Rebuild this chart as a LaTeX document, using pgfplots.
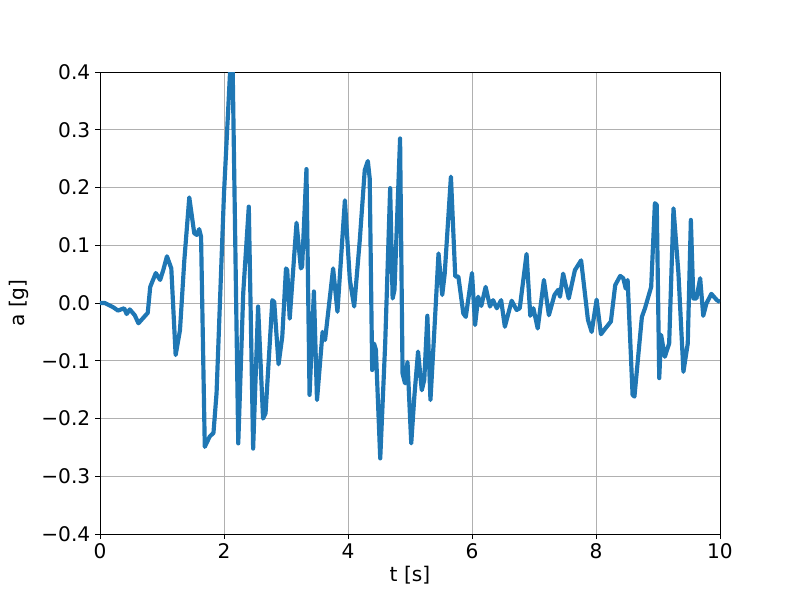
\documentclass[border=0pt]{standalone}
\usepackage{fontspec}
\setmainfont{DejaVu Sans}
\usepackage{pgfplots}
\pgfplotsset{compat=1.18}
\definecolor{mplblue}{HTML}{1F77B4}
\definecolor{mplgrid}{HTML}{B0B0B0}
\begin{document}
\begin{tikzpicture}
% 800x600 px figure -> 576x432 pt; axes box 620x462 px
\path[use as bounding box] (-72pt,-47.5pt) rectangle (504pt,384.5pt);
\begin{axis}[
  at={(0,0)}, anchor=south west,
  scale only axis, width=446.4pt, height=332.6pt,
  xmin=0, xmax=10, ymin=-0.4, ymax=0.4,
  xtick={0,2,...,10}, xticklabels={0,2,4,6,8,10},
  ytick={-0.4,-0.3,...,0.4},
  yticklabels={−0.4,−0.3,−0.2,−0.1,0.0,0.1,0.2,0.3,0.4},
  tick align=outside, tick pos=left,
  major tick length=3.5pt,
  tick style={black, line width=0.6pt},
  axis line style={black, line width=0.6pt},
  grid=major, grid style={mplgrid, line width=0.6pt},
  ticklabel style={font=\fontsize{14.5}{17}\selectfont},
  label style={font=\fontsize{14.5}{17}\selectfont},
  xlabel={t [s]}, ylabel={a [g]},
  xlabel style={yshift=2pt},
  ylabel style={yshift=2pt},
]
% measured acceleration signal
\addplot[mplblue, line width=3pt, line join=round] coordinates {
  (0.00,0.000)(0.08,0.000)(0.21,-0.007)(0.29,-0.013)(0.39,-0.009)(0.43,-0.019)
  (0.48,-0.011)(0.56,-0.021)(0.62,-0.035)(0.77,-0.017)(0.81,0.028)(0.90,0.052)
  (0.97,0.040)(1.02,0.057)(1.08,0.081)(1.15,0.060)(1.22,-0.090)(1.29,-0.047)
  (1.36,0.074)(1.44,0.183)(1.52,0.121)(1.56,0.118)(1.60,0.128)(1.63,0.115)
  (1.69,-0.249)(1.77,-0.231)(1.83,-0.225)(1.88,-0.156)(2.00,0.190)(2.10,0.405)
  (2.14,0.405)(2.23,-0.243)(2.31,0.017)(2.40,0.167)(2.47,-0.252)(2.55,-0.006)
  (2.63,-0.200)(2.67,-0.191)(2.78,0.005)(2.81,0.002)(2.88,-0.106)(2.94,-0.058)
  (3.00,0.060)(3.02,0.057)(3.06,-0.027)(3.17,0.139)(3.24,0.060)(3.26,0.063)
  (3.33,0.232)(3.38,-0.159)(3.45,0.020)(3.50,-0.168)(3.59,-0.050)(3.63,-0.064)
  (3.76,0.060)(3.83,-0.015)(3.95,0.178)(4.03,0.040)(4.10,-0.006)(4.19,0.109)
  (4.27,0.230)(4.32,0.246)(4.35,0.216)(4.39,-0.116)(4.42,-0.070)(4.45,-0.081)
  (4.52,-0.269)(4.60,-0.070)(4.68,0.199)(4.72,0.008)(4.75,0.023)(4.84,0.285)
  (4.88,-0.122)(4.92,-0.139)(4.96,-0.102)(5.02,-0.243)(5.07,-0.162)(5.13,-0.084)
  (5.19,-0.151)(5.23,-0.133)(5.28,-0.022)(5.33,-0.168)(5.39,-0.053)(5.46,0.086)
  (5.52,0.014)(5.56,0.051)(5.66,0.219)(5.73,0.046)(5.78,0.046)(5.86,-0.018)
  (5.90,-0.024)(6.00,0.052)(6.05,-0.038)(6.10,0.011)(6.15,-0.005)(6.22,0.028)
  (6.29,-0.006)(6.34,0.005)(6.40,-0.009)(6.47,0.005)(6.53,-0.041)(6.64,0.004)
  (6.72,-0.012)(6.77,-0.009)(6.88,0.085)(6.94,-0.022)(6.99,-0.009)(7.06,-0.044)
  (7.16,0.040)(7.24,-0.021)(7.33,0.014)(7.39,0.023)(7.42,0.011)(7.47,0.051)
  (7.56,0.008)(7.66,0.057)(7.76,0.074)(7.87,-0.029)(7.93,-0.050)(8.01,0.006)
  (8.08,-0.054)(8.15,-0.044)(8.24,-0.032)(8.31,0.031)(8.39,0.047)(8.44,0.043)
  (8.48,0.025)(8.51,0.040)(8.59,-0.159)(8.62,-0.162)(8.74,-0.024)(8.79,-0.009)
  (8.89,0.028)(8.95,0.173)(8.98,0.170)(9.02,-0.130)(9.05,-0.055)(9.11,-0.093)
  (9.18,-0.070)(9.25,0.164)(9.33,0.051)(9.41,-0.119)(9.48,-0.070)(9.53,0.144)
  (9.57,0.008)(9.62,0.008)(9.68,0.043)(9.73,-0.022)(9.78,-0.001)(9.86,0.016)
  (9.95,0.005)(10.00,0.002)
};
\end{axis}
\end{tikzpicture}
\end{document}
